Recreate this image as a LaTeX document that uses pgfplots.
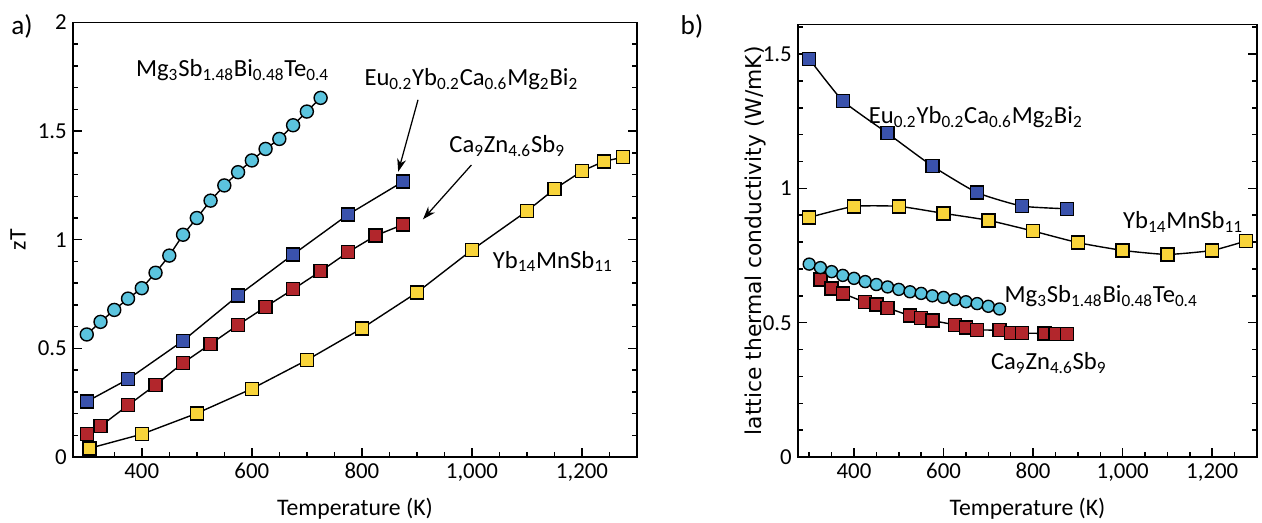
\documentclass[border=0pt]{standalone}
\usepackage{fontspec}
\setmainfont{Carlito}
\newfontfamily\wide{DejaVu Sans}
\usepackage{pgfplots}
\pgfplotsset{compat=1.18}
\usetikzlibrary{arrows.meta}
\definecolor{cyanM}{RGB}{91,196,222}
\definecolor{blueM}{RGB}{58,82,172}
\definecolor{redM}{RGB}{178,38,44}
\definecolor{yellowM}{RGB}{248,212,58}
\newcommand{\sub}[1]{\textsubscript{#1}}
\tikzset{
  ann/.style={font=\fontsize{14}{16}\selectfont, anchor=center, inner sep=0pt},
  ser/.style={black, line width=0.28mm, mark=square*, mark size=1.3mm,
    mark options={fill=#1, draw=black, line width=0.28mm, solid}},
  cser/.style={black, line width=0.28mm, mark=*, mark size=1.3mm,
    mark options={fill=#1, draw=black, line width=0.28mm, solid}},
}
\pgfplotsset{
  myax/.style={
    scale only axis, clip=false,
    xmin=275, xmax=1300,
    xtick={400,600,800,1000,1200},
    xticklabels={400,600,800,{1,000},{1,200}},
    minor xtick={300,350,...,1250},
    xtick pos=bottom, ytick pos=both, tick align=inside,
    major tick length=1.8mm, minor tick length=1.0mm,
    axis line style={line width=0.3mm},
    every tick/.style={black, line width=0.3mm},
    tick label style={font=\fontsize{13}{15}\selectfont},
    label style={font=\fontsize{13.5}{16}\selectfont},
    /pgf/number format/assume math mode=true,
    xlabel={Temperature (K)},
    xlabel style={at={(axis description cs:0.5,0)}, anchor=center, yshift=-10.4mm},
  },
}
\begin{document}
\begin{tikzpicture}
\path[use as bounding box] (0,0) rectangle (252.4mm,104.6mm);
\node[font=\fontsize{15.5}{18}\selectfont, anchor=center] at (4.4mm,99.4mm) {a)};
\node[font=\fontsize{15.5}{18}\selectfont, anchor=center] at (138.4mm,99.4mm) {b)};
% ---------------- left panel
\begin{axis}[myax, at={(14.6mm,13.2mm)}, anchor=south west,
  width=112.8mm, height=86.9mm,
  ymin=0, ymax=2, ytick={0,0.5,1,1.5,2}, minor y tick num=4,
  ylabel={zT}, ylabel style={at={(axis description cs:-0.0975,0.5)}, anchor=center}]
\addplot[ser=redM] coordinates {(300,0.105)(325,0.142)(375,0.238)(425,0.332)(475,0.433)(525,0.520)(575,0.608)(625,0.691)(675,0.772)(725,0.855)(775,0.943)(825,1.019)(875,1.070)};
\addplot[ser=blueM] coordinates {(300,0.255)(375,0.358)(475,0.535)(575,0.743)(675,0.932)(775,1.116)(875,1.268)};
\addplot[ser=yellowM] coordinates {(305,0.040)(400,0.105)(500,0.201)(600,0.314)(700,0.446)(800,0.592)(900,0.757)(1000,0.953)(1100,1.132)(1150,1.233)(1200,1.316)(1240,1.361)(1275,1.380)};
\addplot[cser=cyanM] coordinates {(300,0.564)(325,0.622)(350,0.677)(375,0.729)(400,0.777)(425,0.848)(450,0.927)(475,1.023)(500,1.100)(525,1.180)(550,1.250)(575,1.311)(600,1.365)(625,1.418)(650,1.464)(675,1.527)(700,1.590)(725,1.653)};
\node[ann] at (axis cs:565,1.78) {Mg\sub{3}Sb\sub{1.48}Bi\sub{0.48}Te\sub{0.4}};
\node[ann] at (axis cs:999,1.74) {Eu\sub{0.2}Yb\sub{0.2}Ca\sub{0.6}Mg\sub{2}Bi\sub{2}};
\node[ann] at (axis cs:1064,1.43) {Ca\sub{9}Zn\sub{4.6}Sb\sub{9}};
\node[ann] at (axis cs:1147,0.90) {Yb\sub{14}MnSb\sub{11}};
\draw[black, line width=0.25mm, -{Stealth[length=2.6mm,width=1.8mm]}] (axis cs:902,1.644) -- (axis cs:866,1.313);
\draw[black, line width=0.25mm, -{Stealth[length=2.6mm,width=1.8mm]}] (axis cs:999,1.344) -- (axis cs:911,1.094);
\end{axis}
% ---------------- right panel
\begin{axis}[myax, at={(159.6mm,13.2mm)}, anchor=south west,
  width=91.8mm, height=86.5mm,
  ymin=0, ymax=1.61, ytick={0,0.5,1,1.5}, minor ytick={0.1,0.2,...,1.6},
  ylabel={\wide\fontsize{12.4}{15}\selectfont lattice thermal conductivity (W/mK)},
  ylabel style={at={(axis description cs:-0.092,0.5)}, anchor=center}]
\addplot[ser=blueM, smooth, tension=0.3] coordinates {(300,1.482)(375,1.326)(475,1.205)(575,1.083)(675,0.984)(775,0.934)(875,0.924)};
\addplot[ser=yellowM, smooth, tension=0.3] coordinates {(300,0.892)(400,0.933)(500,0.933)(600,0.907)(700,0.881)(800,0.841)(900,0.798)(1000,0.769)(1100,0.754)(1200,0.769)(1275,0.804)};
\addplot[ser=redM, smooth, tension=0.3] coordinates {(325,0.661)(350,0.627)(375,0.609)(425,0.576)(450,0.567)(475,0.555)(525,0.526)(550,0.518)(575,0.508)(625,0.492)(650,0.482)(675,0.473)(725,0.472)(750,0.461)(775,0.461)(825,0.460)(850,0.457)(875,0.457)};
\addplot[cser=cyanM, mark size=1.2mm, smooth, tension=0.3] coordinates {(300,0.718)(325,0.705)(350,0.690)(375,0.676)(400,0.665)(425,0.653)(450,0.642)(475,0.633)(500,0.624)(525,0.615)(550,0.609)(575,0.600)(600,0.594)(625,0.586)(650,0.578)(675,0.571)(700,0.561)(725,0.551)};
\node[ann] at (axis cs:672,1.265) {Eu\sub{0.2}Yb\sub{0.2}Ca\sub{0.6}Mg\sub{2}Bi\sub{2}};
\node[ann] at (axis cs:1135,0.875) {Yb\sub{14}MnSb\sub{11}};
\node[ann] at (axis cs:952,0.600) {Mg\sub{3}Sb\sub{1.48}Bi\sub{0.48}Te\sub{0.4}};
\node[ann] at (axis cs:835,0.350) {Ca\sub{9}Zn\sub{4.6}Sb\sub{9}};
\end{axis}
\end{tikzpicture}
\end{document}
